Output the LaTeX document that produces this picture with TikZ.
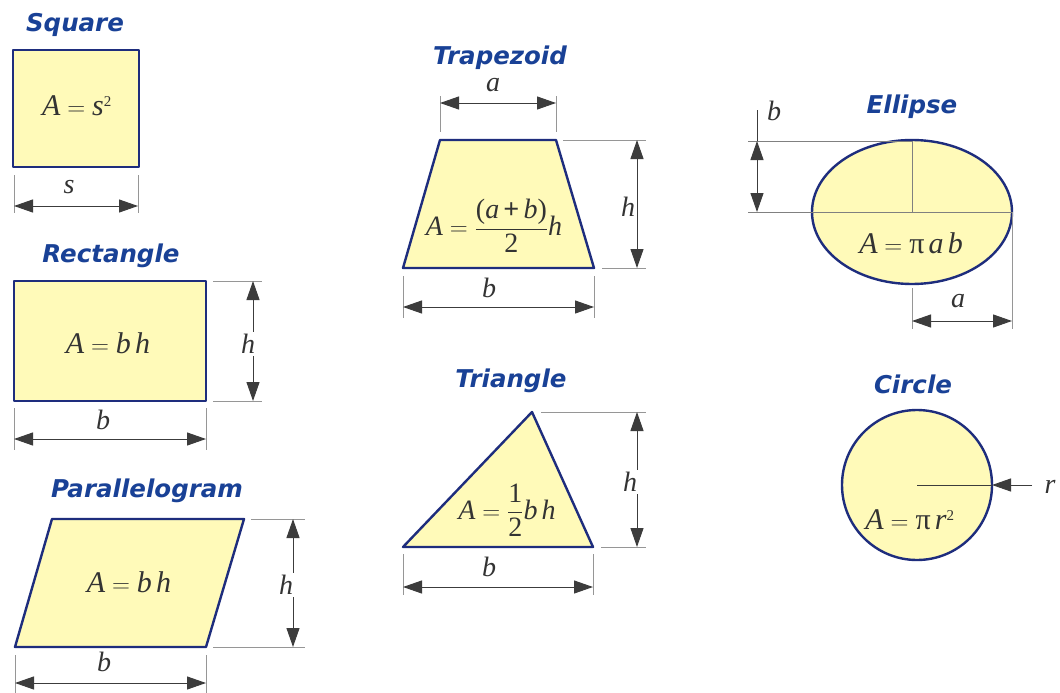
\documentclass[tikz,border=0pt]{standalone}
\usepackage{amsmath}
\usepackage{fontspec}
\setmainfont{Liberation Serif}
\newfontfamily\ttlfont{DejaVu Sans}
\usetikzlibrary{arrows.meta}
\definecolor{shapeblue}{RGB}{30,45,125}
\definecolor{titleblue}{RGB}{25,65,150}
\definecolor{shapefill}{RGB}{255,250,185}
\definecolor{dimgray}{RGB}{60,60,60}
\definecolor{extgray}{RGB}{150,150,150}
\tikzset{
  shp/.style={draw=shapeblue, line width=2.4pt, fill=shapefill, line join=round},
  ttl/.style={font=\ttlfont\bfseries\itshape\fontsize{24.5}{26}\selectfont, text=titleblue, anchor=base, inner sep=0pt},
  extl/.style={draw=extgray, line width=0.9pt},
  dimarr/.style={draw=dimgray, line width=1pt, {Triangle[length=19pt,width=13pt]}-{Triangle[length=19pt,width=13pt]}},
  onearr/.style={draw=dimgray, line width=1pt, -{Triangle[length=19pt,width=13pt]}},
  lbl/.style={font=\fontsize{28}{32}\selectfont\itshape, text=black!80, inner sep=1pt},
  vlbl/.style={lbl, fill=white, inner sep=2pt},
  frm/.style={font=\fontsize{30}{34}\selectfont, text=black!80, inner sep=0pt},
  frms/.style={font=\fontsize{28}{32}\selectfont, text=black!80, inner sep=0pt},
}
\begin{document}
\begin{tikzpicture}[x=1pt,y=-1pt]
\useasboundingbox[fill=white] (0,0) rectangle (1060,693);

% ---------------- Square ----------------
\node[ttl] (tsq) at (75,32) {Square};
\coordinate (sq1) at (13,50);
\coordinate (sq2) at (139,167);
\draw[shp] (sq1) rectangle (sq2);
\node[frm] (fsq) at (77,106) {$\textit{A}=\textit{s}^{\scriptscriptstyle\textrm{2}}$};
\coordinate (sqe1a) at (14,175); \coordinate (sqe1b) at (14,213);
\coordinate (sqe2a) at (138,175); \coordinate (sqe2b) at (138,213);
\draw[extl] (sqe1a) -- (sqe1b);
\draw[extl] (sqe2a) -- (sqe2b);
\coordinate (sqd1) at (14,206); \coordinate (sqd2) at (138,206);
\draw[dimarr] (sqd1) -- (sqd2);
\node[lbl] (lsq) at (69,187) {s};

% ---------------- Rectangle ----------------
\node[ttl] (trc) at (111,262) {Rectangle};
\coordinate (rc1) at (14,281);
\coordinate (rc2) at (206,401);
\draw[shp] (rc1) rectangle (rc2);
\node[frm] (frc) at (108,343) {$\textit{A}=\textit{b}\,\textit{h}$};
\coordinate (rce1a) at (213,281); \coordinate (rce1b) at (262,281);
\coordinate (rce2a) at (213,401); \coordinate (rce2b) at (262,401);
\draw[extl] (rce1a) -- (rce1b);
\draw[extl] (rce2a) -- (rce2b);
\coordinate (rcv1) at (253,281); \coordinate (rcv2) at (253,401);
\draw[dimarr] (rcv1) -- (rcv2);
\node[vlbl] (lrch) at (248,344) {h};
\coordinate (rce3a) at (14,408); \coordinate (rce3b) at (14,450);
\coordinate (rce4a) at (206,408); \coordinate (rce4b) at (206,450);
\draw[extl] (rce3a) -- (rce3b);
\draw[extl] (rce4a) -- (rce4b);
\coordinate (rch1) at (14,439); \coordinate (rch2) at (206,439);
\draw[dimarr] (rch1) -- (rch2);
\node[lbl] (lrcb) at (103,420) {b};

% ---------------- Parallelogram ----------------
\node[ttl] (tpg) at (147,497) {Parallelogram};
\coordinate (pg1) at (52,519);
\coordinate (pg2) at (244,519);
\coordinate (pg3) at (206,647);
\coordinate (pg4) at (15,647);
\draw[shp] (pg1) -- (pg2) -- (pg3) -- (pg4) -- cycle;
\node[frm] (fpg) at (129,582) {$\textit{A}=\textit{b}\,\textit{h}$};
\coordinate (pge1a) at (251,519); \coordinate (pge1b) at (305,519);
\coordinate (pge2a) at (213,647); \coordinate (pge2b) at (305,647);
\draw[extl] (pge1a) -- (pge1b);
\draw[extl] (pge2a) -- (pge2b);
\coordinate (pgv1) at (293,519); \coordinate (pgv2) at (293,647);
\draw[dimarr] (pgv1) -- (pgv2);
\node[vlbl] (lpgh) at (286,585) {h};
\coordinate (pge3a) at (15,655); \coordinate (pge3b) at (15,693);
\coordinate (pge4a) at (206,655); \coordinate (pge4b) at (206,693);
\draw[extl] (pge3a) -- (pge3b);
\draw[extl] (pge4a) -- (pge4b);
\coordinate (pgh1) at (15,683); \coordinate (pgh2) at (206,683);
\draw[dimarr] (pgh1) -- (pgh2);
\node[lbl] (lpgb) at (104,662) {b};

% ---------------- Trapezoid ----------------
\node[ttl] (ttz) at (500,65) {Trapezoid};
\coordinate (tz1) at (440,140);
\coordinate (tz2) at (556,140);
\coordinate (tz3) at (594,268);
\coordinate (tz4) at (403,268);
\draw[shp] (tz1) -- (tz2) -- (tz3) -- (tz4) -- cycle;
\node[frms] (ftz) at (494,226) {$\displaystyle\textit{A}=\frac{\textrm{(}\textit{a}\,\textbf{+}\,\textit{b}\textrm{)}}{\textrm{2}}\textit{h}$};
\coordinate (tze1a) at (440,96); \coordinate (tze1b) at (440,132);
\coordinate (tze2a) at (556,96); \coordinate (tze2b) at (556,132);
\draw[extl] (tze1a) -- (tze1b);
\draw[extl] (tze2a) -- (tze2b);
\coordinate (tzt1) at (440,103); \coordinate (tzt2) at (556,103);
\draw[dimarr] (tzt1) -- (tzt2);
\node[lbl] (ltza) at (493,85) {a};
\coordinate (tze3a) at (563,140); \coordinate (tze3b) at (646,140);
\coordinate (tze4a) at (602,268); \coordinate (tze4b) at (646,268);
\draw[extl] (tze3a) -- (tze3b);
\draw[extl] (tze4a) -- (tze4b);
\coordinate (tzv1) at (637,140); \coordinate (tzv2) at (637,268);
\draw[dimarr] (tzv1) -- (tzv2);
\node[vlbl] (ltzh) at (628,207) {h};
\coordinate (tze5a) at (403,276); \coordinate (tze5b) at (403,318);
\coordinate (tze6a) at (594,276); \coordinate (tze6b) at (594,318);
\draw[extl] (tze5a) -- (tze5b);
\draw[extl] (tze6a) -- (tze6b);
\coordinate (tzb1) at (403,307); \coordinate (tzb2) at (594,307);
\draw[dimarr] (tzb1) -- (tzb2);
\node[lbl] (ltzb) at (489,288) {b};

% ---------------- Triangle ----------------
\node[ttl] (ttr) at (511,387) {Triangle};
\coordinate (tr1) at (532,412);
\coordinate (tr2) at (593,547);
\coordinate (tr3) at (403,547);
\draw[shp] (tr1) -- (tr2) -- (tr3) -- cycle;
\node[frms] (ftr) at (507,510) {$\displaystyle\textit{A}=\frac{\textrm{1}}{\textrm{2}}\textit{b}\,\textit{h}$};
\coordinate (tre1a) at (541,412); \coordinate (tre1b) at (646,412);
\coordinate (tre2a) at (601,547); \coordinate (tre2b) at (646,547);
\draw[extl] (tre1a) -- (tre1b);
\draw[extl] (tre2a) -- (tre2b);
\coordinate (trv1) at (637,412); \coordinate (trv2) at (637,547);
\draw[dimarr] (trv1) -- (trv2);
\node[vlbl] (ltrh) at (630,482) {h};
\coordinate (tre3a) at (403,554); \coordinate (tre3b) at (403,595);
\coordinate (tre4a) at (593,554); \coordinate (tre4b) at (593,595);
\draw[extl] (tre3a) -- (tre3b);
\draw[extl] (tre4a) -- (tre4b);
\coordinate (trb1) at (403,587); \coordinate (trb2) at (593,587);
\draw[dimarr] (trb1) -- (trb2);
\node[lbl] (ltrb) at (489,567) {b};

% ---------------- Ellipse ----------------
\node[ttl] (tel) at (912,113) {Ellipse};
\coordinate (elc) at (912,212);
\draw[shp] (elc) ellipse [x radius=100, y radius=72];
\coordinate (elt) at (912,141);
\coordinate (elr) at (1012,212);
\coordinate (elb) at (912,284);
\coordinate (ell1) at (748,141);
\coordinate (ell2) at (748,212);
\draw[extl, draw=gray] (ell1) -- (elt);
\draw[extl, draw=gray] (ell2) -- (elr);
\draw[extl, draw=gray] (elt) -- (elc);
\coordinate (elv0) at (757,110);
\coordinate (elv1) at (757,141);
\coordinate (elv2) at (757,212);
\draw[draw=dimgray, line width=1pt] (elv0) -- (elv1);
\draw[dimarr] (elv1) -- (elv2);
\node[lbl] (lelb) at (774,111) {b};
\coordinate (ele1a) at (912,288); \coordinate (ele1b) at (912,329);
\coordinate (ele2b) at (1012,329);
\draw[extl] (ele1a) -- (ele1b);
\draw[extl] (elr) -- (ele2b);
\coordinate (elh1) at (912,321); \coordinate (elh2) at (1012,321);
\draw[dimarr] (elh1) -- (elh2);
\node[lbl] (lela) at (958,301) {a};
\node[frm] (fel) at (911,243) {$\textit{A}=\textrm{π}\,\textit{a}\,\textit{b}$};

% ---------------- Circle ----------------
\node[ttl] (tci) at (913,393) {Circle};
\coordinate (cic) at (917,485);
\draw[shp] (cic) circle [radius=75];
\coordinate (cie) at (992,485);
\draw[draw=dimgray, line width=1pt] (cic) -- (cie);
\coordinate (cia) at (1032,485);
\draw[onearr] (cia) -- (cie);
\node[lbl] (lcir) at (1050,487) {r};
\node[frm] (fci) at (910,520) {$\textit{A}=\textrm{π}\,\textit{r}^{\scriptscriptstyle\textrm{2}}$};
\end{tikzpicture}
\end{document}
